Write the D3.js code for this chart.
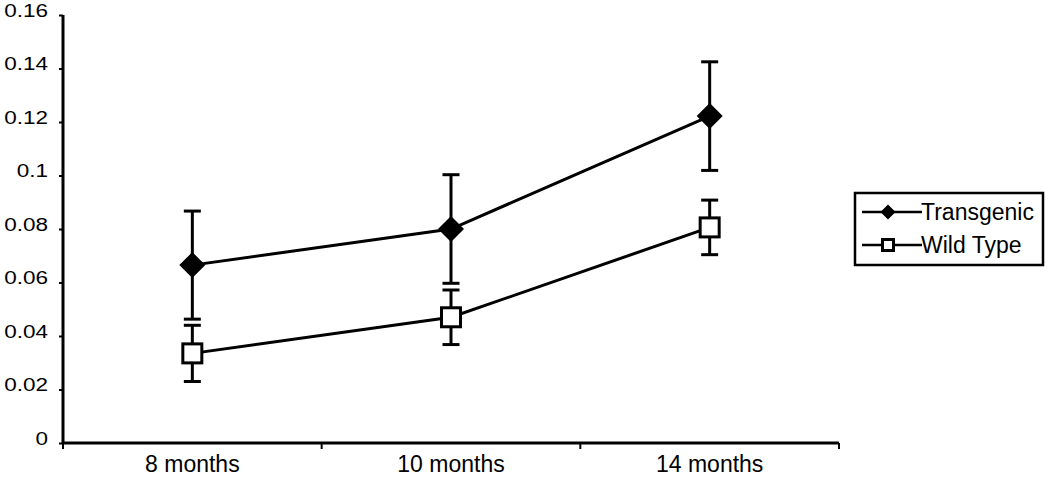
<!DOCTYPE html>
<html><head><meta charset="utf-8">
<script src="https://cdn.jsdelivr.net/npm/d3@7"></script>
<style>body{margin:0;background:#fff}svg{display:block}text{font-family:"Liberation Sans",Arial,sans-serif;fill:#000}</style>
</head><body><svg id="c" width="1050" height="479"></svg>
<script>
const categories = ["8 months","10 months","14 months"];
const transgenic = [0.0665, 0.080, 0.1222];
const transgenicErr = [0.0202, 0.0203, 0.0203];
const wildType = [0.0335, 0.0470, 0.0806];
const wildTypeErr = [0.0105, 0.0102, 0.0102];
const yTicks = [0,0.02,0.04,0.06,0.08,0.1,0.12,0.14,0.16];
const yTickLabels = ["0","0.02","0.04","0.06","0.08","0.1","0.12","0.14","0.16"];
const seriesNames = ["Transgenic","Wild Type"];

const svg = d3.select("#c");
const pL=63, pR=839, pT=15, pB=443;
const x = d3.scaleBand().domain(categories).range([pL,pR]);
const y = d3.scaleLinear().domain([0,0.16]).range([pB,pT]);

// axes
const yAx = svg.append("g").attr("transform",`translate(${pL},0)`)
  .call(d3.axisLeft(y).tickValues(yTicks).tickFormat((d,i)=>yTickLabels[i]).tickSize(4).tickPadding(8));
yAx.select(".domain").attr("stroke","#000").attr("stroke-width",3).attr("d",`M0,${pT}V${pB}`);
yAx.selectAll(".tick line").attr("stroke-width",2);
yAx.selectAll("text").style("font-size","18px").attr("y",-5).attr("dy","0.35em").attr("transform","scale(1.25,1)");

const xAx = svg.append("g").attr("transform",`translate(0,${pB})`)
  .call(d3.axisBottom(x).tickSize(0).tickPadding(13));
xAx.select(".domain").attr("stroke","#000").attr("stroke-width",3).attr("d",`M${pL},0H${pR}`);
xAx.selectAll("text").style("font-size","23px");
// band boundary ticks
const bounds = categories.map(c=>x(c)).concat([pR]);
svg.append("g").selectAll("line").data(bounds).join("line")
  .attr("x1",d=>d).attr("x2",d=>d).attr("y1",pB).attr("y2",pB+6)
  .attr("stroke","#000").attr("stroke-width",2);

const cx = c => x(c)+x.bandwidth()/2;
const line = d3.line().x((d,i)=>cx(categories[i])).y(d=>y(d));

function drawSeries(vals, errs, marker){
  const g = svg.append("g");
  g.append("path").datum(vals).attr("d",line).attr("fill","none").attr("stroke","#000").attr("stroke-width",3);
  vals.forEach((v,i)=>{
    const px=cx(categories[i]);
    g.append("line").attr("x1",px).attr("x2",px).attr("y1",y(v+errs[i])).attr("y2",y(v-errs[i])).attr("stroke","#000").attr("stroke-width",3);
    [v+errs[i], v-errs[i]].forEach(e=>{
      g.append("line").attr("x1",px-8.5).attr("x2",px+8.5).attr("y1",y(e)).attr("y2",y(e)).attr("stroke","#000").attr("stroke-width",3);
    });
    marker(g,px,y(v));
  });
}
const diamond=(g,px,py,s=13)=>g.append("path").attr("d",`M${px},${py-s}L${px+s},${py}L${px},${py+s}L${px-s},${py}Z`).attr("fill","#000");
const square=(g,px,py,s=9.5)=>g.append("rect").attr("x",px-s).attr("y",py-s).attr("width",2*s).attr("height",2*s).attr("fill","#fff").attr("stroke","#000").attr("stroke-width",3);

drawSeries(transgenic, transgenicErr, diamond);
drawSeries(wildType, wildTypeErr, square);

// legend
const lg = svg.append("g");
lg.append("rect").attr("x",855).attr("y",193).attr("width",188).attr("height",72).attr("fill","#fff").attr("stroke","#000").attr("stroke-width",2.5);
const rows=[{name:seriesNames[0],m:(g,px,py)=>diamond(g,px,py,7.5),yy:212},{name:seriesNames[1],m:(g,px,py)=>square(g,px,py,5.5),yy:245}];
rows.forEach(r=>{
  lg.append("line").attr("x1",862).attr("x2",922).attr("y1",r.yy).attr("y2",r.yy).attr("stroke","#000").attr("stroke-width",2.5);
  r.m(lg,888,r.yy);
  lg.append("text").attr("x",921).attr("y",r.yy).attr("dy","0.36em").style("font-size","23px").text(r.name);
});
</script></body></html>
